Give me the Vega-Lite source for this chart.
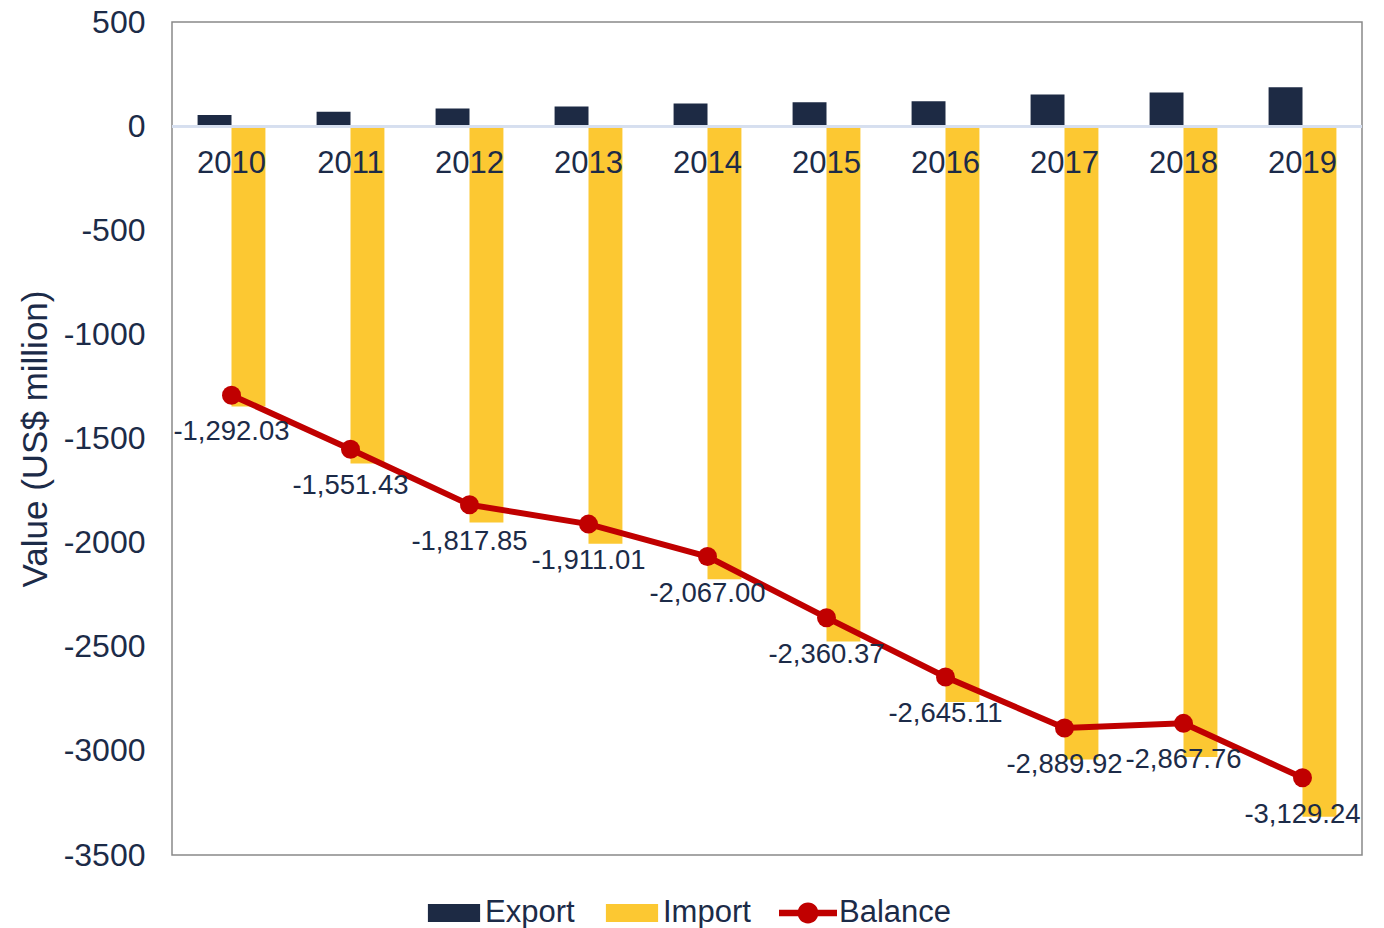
{
  "$schema": "https://vega.github.io/schema/vega-lite/v6.json",
  "width": 1190,
  "height": 833,
  "autosize": {"type": "none"},
  "padding": {"left": 172, "top": 22, "right": 22, "bottom": 73},
  "background": "white",
  "config": {
    "view": {"stroke": "#898989", "strokeWidth": 1.5},
    "font": "Liberation Sans"
  },
  "data": {
    "values": [
      {"year": "2010", "series": "Export", "value": 54},
      {"year": "2011", "series": "Export", "value": 69},
      {"year": "2012", "series": "Export", "value": 85},
      {"year": "2013", "series": "Export", "value": 94},
      {"year": "2014", "series": "Export", "value": 109},
      {"year": "2015", "series": "Export", "value": 115},
      {"year": "2016", "series": "Export", "value": 120},
      {"year": "2017", "series": "Export", "value": 152},
      {"year": "2018", "series": "Export", "value": 162},
      {"year": "2019", "series": "Export", "value": 187},
      {"year": "2010", "series": "Import", "value": -1346},
      {"year": "2011", "series": "Import", "value": -1620},
      {"year": "2012", "series": "Import", "value": -1903},
      {"year": "2013", "series": "Import", "value": -2005},
      {"year": "2014", "series": "Import", "value": -2176},
      {"year": "2015", "series": "Import", "value": -2475},
      {"year": "2016", "series": "Import", "value": -2765},
      {"year": "2017", "series": "Import", "value": -3042},
      {"year": "2018", "series": "Import", "value": -3030},
      {"year": "2019", "series": "Import", "value": -3316},
      {"year": "2010", "series": "Balance", "value": -1292.03, "label": "-1,292.03"},
      {"year": "2011", "series": "Balance", "value": -1551.43, "label": "-1,551.43"},
      {"year": "2012", "series": "Balance", "value": -1817.85, "label": "-1,817.85"},
      {"year": "2013", "series": "Balance", "value": -1911.01, "label": "-1,911.01"},
      {"year": "2014", "series": "Balance", "value": -2067.00, "label": "-2,067.00"},
      {"year": "2015", "series": "Balance", "value": -2360.37, "label": "-2,360.37"},
      {"year": "2016", "series": "Balance", "value": -2645.11, "label": "-2,645.11"},
      {"year": "2017", "series": "Balance", "value": -2889.92, "label": "-2,889.92"},
      {"year": "2018", "series": "Balance", "value": -2867.76, "label": "-2,867.76"},
      {"year": "2019", "series": "Balance", "value": -3129.24, "label": "-3,129.24"}
    ]
  },
  "encoding": {
    "x": {
      "field": "year",
      "type": "nominal",
      "sort": null,
      "scale": {"paddingInner": 0.43, "paddingOuter": 0.215},
      "axis": {
        "title": null,
        "orient": "bottom",
        "offset": -729,
        "domain": false,
        "ticks": false,
        "tickSize": 0,
        "labelAngle": 0,
        "labelPadding": 22,
        "labelFontSize": 31,
        "labelColor": "#1C2B48",
        "labelFont": "Liberation Sans",
        "zindex": 1
      }
    },
    "y": {
      "field": "value",
      "type": "quantitative",
      "scale": {"domain": [-3500, 500], "nice": false, "zero": false},
      "axis": {
        "title": "Value (US$ million)",
        "titleFontSize": 35,
        "titleFontWeight": "normal",
        "titleColor": "#1C2B48",
        "titleFont": "Liberation Sans",
        "titlePadding": 10,
        "values": [-3500, -3000, -2500, -2000, -1500, -1000, -500, 0, 500],
        "labelExpr": "'' + datum.value",
        "domain": false,
        "ticks": false,
        "tickSize": 0,
        "grid": false,
        "labelPadding": 27,
        "labelFontSize": 32,
        "labelColor": "#1C2B48",
        "labelFont": "Liberation Sans"
      }
    }
  },
  "layer": [
    {
      "transform": [{"filter": "datum.series !== 'Balance'"}],
      "mark": {"type": "bar"},
      "encoding": {
        "xOffset": {
          "field": "series",
          "type": "nominal",
          "sort": ["Export", "Import"],
          "scale": {"domain": ["Export", "Import"], "paddingInner": 0, "paddingOuter": 0}
        },
        "color": {
          "field": "series",
          "type": "nominal",
          "scale": {
            "domain": ["Export", "Import", "Balance"],
            "range": ["#1D2A44", "#FCC832", "#C00000"]
          },
          "legend": {
            "orient": "none",
            "legendX": 253,
            "legendY": 862,
            "direction": "horizontal",
            "title": null,
            "labelFontSize": 31,
            "labelColor": "#1C2B48",
            "labelFont": "Liberation Sans",
            "symbolSize": 3364,
            "labelOffset": 2,
            "columnPadding": 28,
            "symbolType": "M-0.9,-0.31H0.9V0.31H-0.9Z",
            "encode": {
              "symbols": {
                "update": {
                  "shape": {"signal": "datum.value === 'Balance' ? 'M-1,-0.11H1V0.11H-1Z M0.36,0A0.36,0.36 0 1,1 -0.36,0A0.36,0.36 0 1,1 0.36,0Z' : 'M-0.9,-0.31H0.9V0.31H-0.9Z'"},
                  "fill": {"scale": "color", "field": "value"},
                  "stroke": {"value": "transparent"},
                  "strokeWidth": {"value": 0},
                  "opacity": {"value": 1},
                  "fillOpacity": {"value": 1},
                  "size": {"value": 3364}
                }
              }
            }
          }
        }
      }
    },
    {
      "mark": {"type": "rule", "color": "#D6DFEF", "strokeWidth": 2},
      "encoding": {"y": {"datum": 0}, "x": {"value": 0}, "x2": {"value": 1190}}
    },
    {
      "transform": [{"filter": "datum.series === 'Balance'"}],
      "mark": {"type": "line", "color": "#C00000", "strokeWidth": 6}
    },
    {
      "transform": [{"filter": "datum.series === 'Balance'"}],
      "mark": {"type": "point", "filled": true, "color": "#C00000", "size": 360, "opacity": 1}
    },
    {
      "transform": [{"filter": "datum.series === 'Balance'"}],
      "mark": {
        "type": "text",
        "dy": 37,
        "baseline": "middle",
        "align": "center",
        "fontSize": 27.5,
        "color": "#1C2B48",
        "font": "Liberation Sans"
      },
      "encoding": {"text": {"field": "label"}}
    }
  ]
}
